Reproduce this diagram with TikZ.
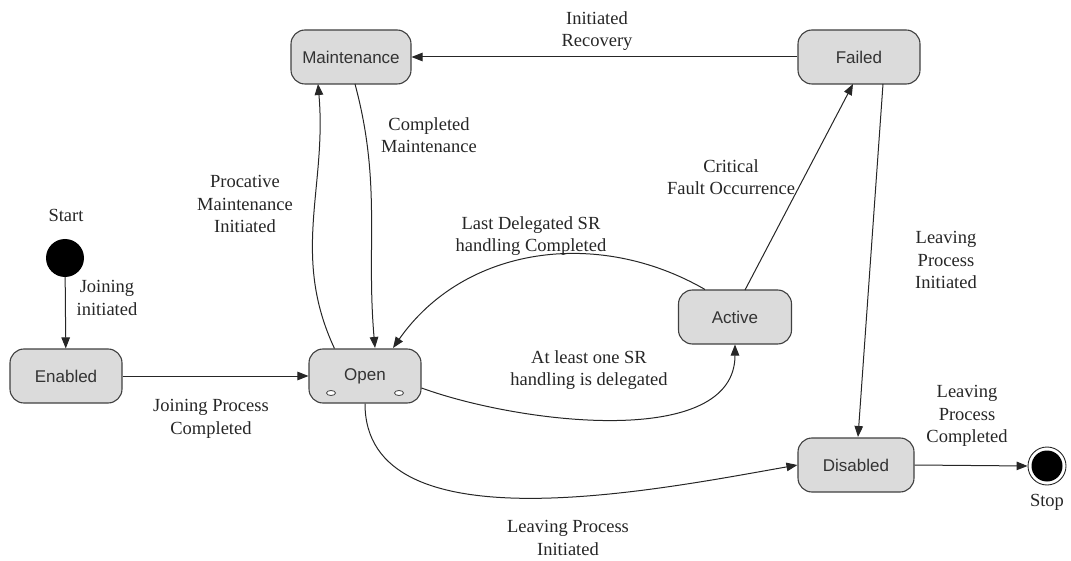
\documentclass[tikz,border=0pt]{standalone}
\usepackage{fontspec}
\setmainfont{Liberation Serif}
\setsansfont{Liberation Sans}
\usetikzlibrary{arrows.meta}

\begin{document}
\begin{tikzpicture}[
  x=1pt, y=-1pt,
  state/.style={rectangle, rounded corners=14pt, draw=black!75, line width=1.1pt,
    fill=black!14, minimum width=112pt, minimum height=54pt, inner sep=1pt,
    font=\sffamily\fontsize{17}{20}\selectfont, text=black!80},
  lbl/.style={align=center, inner sep=0pt, font=\fontsize{18.5}{22.5}\selectfont, text=black!85},
  trans/.style={draw=black!85, line width=1pt, -{Triangle[length=11pt,width=8.5pt]}}
]
\useasboundingbox (0,0) rectangle (1071,561);

% states
\node[circle, fill=black, minimum size=38pt, inner sep=0pt] (start) at (65,258) {};
\node[state] (enabled) at (66,376) {Enabled};
\node[state] (open) at (365,376) {Open};
\node[state, minimum width=120pt] (maint) at (351,57) {Maintenance};
\node[state, minimum width=122pt] (failed) at (859,57) {Failed};
\node[state, minimum width=113pt] (active) at (735,317) {Active};
\node[state, minimum width=116pt] (disabled) at (856,465) {Disabled};
\node[circle, draw=black!85, line width=0.9pt, minimum size=38pt, inner sep=0pt] (stop) at (1047,466) {};
\fill[black] (stop) circle (15.5pt);

% little marks on Open
\draw[black!75, fill=white, line width=0.8pt] (331,393) ellipse (4.5pt and 2.5pt);
\draw[black!75, fill=white, line width=0.8pt] (399,393) ellipse (4.5pt and 2.5pt);

% transitions
\draw[trans] (start) -- (enabled);
\draw[trans] (enabled) -- (open);
\draw[trans] (open.north west) ++(26,0) to[out=115,in=-85] (318,84);
\draw[trans] (355,84) to[out=-75,in=95] (375,348);
\draw[trans] (active.north west) ++(27,0) to[out=150,in=55] (393,348);
\draw[trans] (open.east) ++(0,12) to[out=-20,in=-90,looseness=0.85] (active.south);
\draw[trans] (745,290) -- (853,84);
\draw[trans] (failed.west) -- (maint.east);
\draw[trans] (883,84) -- (858,437);
\draw[trans] (open.south) to[out=-90,in=190,looseness=0.85] (disabled.west);
\draw[trans] (disabled.east) -- (stop.west);

% labels
\node[lbl] (lstart) at (66,215) {Start};
\node[lbl] (lstop) at (1047,502) {Stop};
\node[lbl] (ljoin) at (107,298) {Joining\\initiated};
\node[lbl] (ljoinc) at (211,419) {Joining Process\\Completed};
\node[lbl] (lpro) at (245,204) {Procative\\Maintenance\\Initiated};
\node[lbl] (lcomp) at (429,135) {Completed\\Maintenance};
\node[lbl] (lrec) at (597,31) {Initiated\\Recovery};
\node[lbl] (lcrit) at (731,177) {Critical\\Fault Occurrence};
\node[lbl] (llast) at (531,236) {Last Delegated SR\\handling Completed};
\node[lbl] (ldel) at (589,370) {At least one SR\\handling is delegated};
\node[lbl] (lleavef) at (946,260) {Leaving\\Process\\Initiated};
\node[lbl] (lleaveo) at (568,538) {Leaving Process\\Initiated};
\node[lbl] (lleaved) at (967,416) {Leaving\\Process\\Completed};
\end{tikzpicture}
\end{document}
